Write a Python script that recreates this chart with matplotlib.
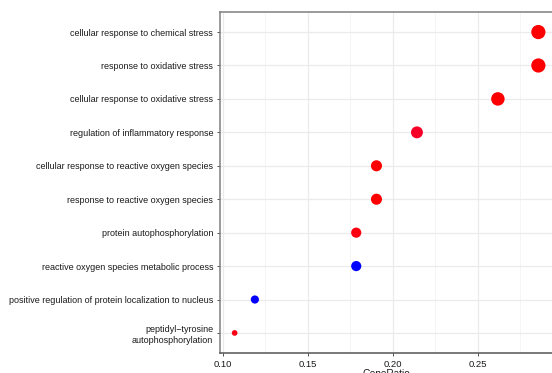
import numpy as np
import matplotlib.pyplot as plt
from matplotlib.colors import LinearSegmentedColormap, Normalize

plt.rcParams['font.family'] = ['Liberation Sans', 'DejaVu Sans']

# GO terms (top to bottom)
terms = [
    "cellular response to chemical stress",
    "response to oxidative stress",
    "cellular response to oxidative stress",
    "regulation of inflammatory response",
    "cellular response to reactive oxygen species",
    "response to reactive oxygen species",
    "protein autophosphorylation",
    "reactive oxygen species metabolic process",
    "positive regulation of protein localization to nucleus",
    "peptidyl\u2212tyrosine\nautophosphorylation",
]
gene_ratio = [0.2857, 0.2857, 0.2619, 0.2143, 0.1905, 0.1905, 0.1786, 0.1786, 0.1190, 0.1071]
counts = [12, 12, 11, 9, 8, 8, 7, 7, 5, 3]
p_adjust = [0.0010, 0.0010, 0.0010, 0.0068, 0.0012, 0.0012, 0.0033, 0.0460, 0.0455, 0.0040]

# red -> blue, roughly like ggplot's Lab interpolation
cmap = LinearSegmentedColormap.from_list(
    "padj", ["#FF0000", "#EE0050", "#C8008F", "#8A00C8", "#0000FF"])
norm = Normalize(min(p_adjust), max(p_adjust))

# dot diameter (px) scaled on sqrt(count)
sq = np.sqrt(counts)
diam_px = 5.7 + (sq - sq.min()) / (sq.max() - sq.min()) * (14.2 - 5.7)
sizes = (diam_px * 0.72) ** 2

fig = plt.figure(figsize=(5.52, 3.73), dpi=100)
ax = fig.add_axes([219.5 / 552, 20 / 373, 334 / 552, 341 / 373])

ypos = np.arange(len(terms))[::-1]
ax.scatter(gene_ratio, ypos, s=sizes, c=[cmap(norm(p)) for p in p_adjust],
           edgecolors='none', zorder=3)

ax.set_xlim(0.0982, 0.2946)
ax.set_ylim(-0.6, len(terms) - 0.4)
ax.set_xticks([0.10, 0.15, 0.20, 0.25])
ax.set_xticklabels(["0.10", "0.15", "0.20", "0.25"])
ax.set_xticks([0.125, 0.175, 0.225, 0.275], minor=True)
ax.set_yticks(ypos)
ax.set_yticklabels(terms, fontsize=6.5, color='#1a1a1a')
for lab in ax.get_yticklabels():
    lab.set_multialignment('right')
    lab.set_linespacing(1.35)

ax.grid(which='major', color='#ebebeb', linewidth=0.9, zorder=0)
ax.grid(which='minor', axis='x', color='#f2f2f2', linewidth=0.5, zorder=0)
ax.set_axisbelow(True)
ax.tick_params(axis='x', which='major', labelsize=6.8, labelcolor='#1a1a1a',
               color='#333333', length=2.5, width=0.6, pad=2.5)
ax.tick_params(axis='x', which='minor', length=0)
ax.tick_params(axis='y', color='#333333', length=2.5, width=0.6, pad=2)
for sp in ax.spines.values():
    sp.set_color('#7f7f7f')
    sp.set_linewidth(1.1)
ax.spines['bottom'].set_color('#555555')

ax.set_xlabel("GeneRatio", fontsize=7.2, color='#1a1a1a', labelpad=0.3)

fig.savefig("out.png", dpi=100)
